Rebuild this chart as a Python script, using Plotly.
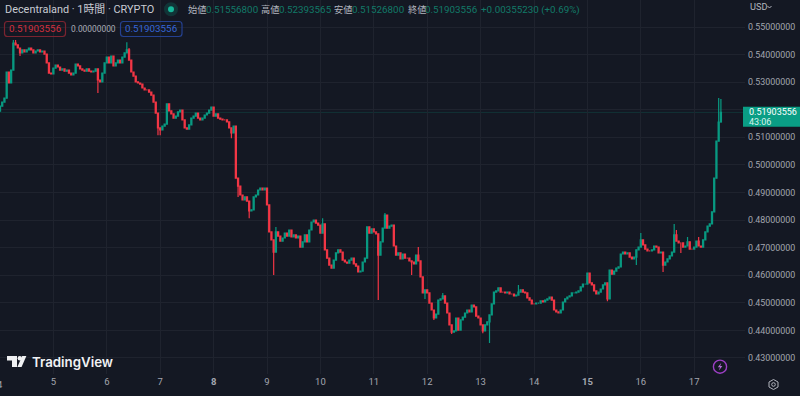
import plotly.graph_objects as go

first_open = .5195
closes = [
 # day 4
 .5213,.5228,.5242,.5337,.5297,.5344,.5442,.5435,.5424,.5406,.5417,.5410,.5417,.5424,.5417,.5406,.5413,.5417,.5410,.5413,.5402,.5370,.5333,.5330,
 # day 5
 .5351,.5362,.5355,.5344,.5348,.5340,.5344,.5333,.5326,.5333,.5366,.5359,.5348,.5344,.5340,.5348,.5340,.5337,.5340,.5348,.5308,.5301,.5333,.5370,
 # day 6
 .5391,.5370,.5395,.5359,.5370,.5380,.5370,.5391,.5406,.5417,.5380,.5337,.5322,.5301,.5297,.5293,.5279,.5272,.5272,.5264,.5253,.5228,.5188,.5134,
 # day 7
 .5127,.5141,.5148,.5221,.5196,.5185,.5170,.5177,.5192,.5199,.5163,.5134,.5130,.5145,.5170,.5177,.5188,.5170,.5163,.5170,.5181,.5188,.5199,.5210,
 # day 8
 .5177,.5185,.5170,.5166,.5163,.5163,.5156,.5134,.5116,.5141,.4952,.4923,.4891,.4873,.4884,.4869,.4833,.4837,.4884,.4891,.4909,.4916,.4909,.4916,
 # day 9
 .4855,.4757,.4728,.4684,.4757,.4742,.4724,.4735,.4753,.4742,.4764,.4739,.4746,.4735,.4742,.4702,.4721,.4746,.4721,.4764,.4793,.4800,.4789,.4782,
 # day 10
 .4753,.4786,.4692,.4662,.4637,.4626,.4655,.4681,.4692,.4684,.4655,.4648,.4644,.4655,.4662,.4641,.4633,.4612,.4615,.4648,.4662,.4775,.4753,.4768,
 # day 11
 .4757,.4750,.4673,.4721,.4771,.4818,.4771,.4778,.4782,.4706,.4673,.4681,.4659,.4677,.4662,.4662,.4652,.4648,.4641,.4673,.4652,.4594,.4536,.4547,
 # day 12
 .4536,.4499,.4474,.4445,.4459,.4510,.4514,.4525,.4499,.4463,.4420,.4394,.4398,.4445,.4401,.4438,.4448,.4463,.4474,.4467,.4492,.4485,.4452,.4445,
 # day 13
 .4420,.4398,.4420,.4431,.4456,.4496,.4539,.4543,.4554,.4539,.4539,.4536,.4539,.4532,.4532,.4525,.4528,.4539,.4547,.4539,.4536,.4518,.4510,.4496,
 # day 14
 .4496,.4499,.4499,.4507,.4503,.4510,.4514,.4521,.4510,.4474,.4467,.4463,.4474,.4503,.4514,.4521,.4525,.4536,.4536,.4539,.4543,.4558,.4568,.4568,
 # day 15
 .4608,.4572,.4565,.4543,.4532,.4539,.4550,.4565,.4572,.4514,.4619,.4604,.4615,.4626,.4630,.4677,.4684,.4677,.4681,.4666,.4659,.4666,.4692,.4702,
 # day 16
 .4728,.4710,.4695,.4688,.4688,.4692,.4706,.4702,.4681,.4684,.4637,.4648,.4659,.4670,.4684,.4746,.4724,.4717,.4717,.4702,.4706,.4721,.4695,.4695,
 # day 17
 .4702,.4724,.4706,.4702,.4728,.4757,.4778,.4786,.4830,.4952,.5086,.515568,.51903556,
]
# wicks that reach visibly past the body, by hour index
long_highs = {6:.5453, 7:.5453, 57:.5445, 58:.5424, 124:.4775, 145:.4807, 173:.4826, 188:.4702,
              199:.4536, 233:.4565, 288:.4753, 303:.4786, 304:.4764, 309:.4739, 314:.4739,
              323:.5243, 324:.52393565}
long_lows = {9:.5395, 44:.5261, 71:.5108, 72:.5108, 104:.5097, 107:.4884, 112:.4807, 123:.4601,
             170:.4510, 185:.4601, 191:.4514, 195:.4438, 203:.4387, 217:.4390, 220:.4354,
             273:.4506, 286:.4637, 298:.4612, 306:.4681, 324:.51526800}

hour_index = list(range(len(closes)))
opens = [first_open] + closes[:-1]
highs = [max(o, c, long_highs.get(i, 0)) for i, (o, c) in enumerate(zip(opens, closes))]
lows = [min(o, c, long_lows.get(i, 9)) for i, (o, c) in enumerate(zip(opens, closes))]

day_hours = [24 * d for d in range(1, 14)]
day_labels = ["5","6","7","<b>8</b>","9","10","11","12","13","14","<b>15</b>","16","17"]
price_ticks = [.43,.44,.45,.46,.47,.48,.49,.50,.51,.52,.53,.54,.55]
price_labels = ["0.43000000","0.44000000","0.45000000","0.46000000","0.47000000","0.48000000","0.49000000",
                "0.50000000","0.51000000","","0.53000000","0.54000000","0.55000000"]

W, H = 745.0, 374.0
def X(p): return p / W
def Y(p): return 1 - p / H
UP, DOWN = "#089981", "#F23645"
BG = "#141823"
GRID = "#1f232e"

fig = go.Figure(go.Candlestick(
    x=hour_index, open=opens, high=highs, low=lows, close=closes,
    increasing=dict(line=dict(color=UP, width=1.2), fillcolor=UP),
    decreasing=dict(line=dict(color=DOWN, width=1.2), fillcolor=DOWN),
    whiskerwidth=0, showlegend=False, hoverinfo="skip"))

shapes, notes = [], []
def text(x, y, s, size=9.8, color="#b2b5be", anchor="left", font="Roboto, 'Noto Sans CJK JP', sans-serif", weight=None):
    f = dict(size=size, color=color, family=font)
    if weight: f["weight"] = weight
    notes.append(dict(xref="paper", yref="paper", x=X(x), y=Y(y), text=s, showarrow=False,
                      xanchor=anchor, yanchor="middle", font=f, borderpad=0, borderwidth=0))
def rrect(x0, y0, x1, y1, r, line=None, fill=None, lw=1):
    d = (f"M{X(x0+r)},{Y(y0)} L{X(x1-r)},{Y(y0)} Q{X(x1)},{Y(y0)} {X(x1)},{Y(y0+r)} "
         f"L{X(x1)},{Y(y1-r)} Q{X(x1)},{Y(y1)} {X(x1-r)},{Y(y1)} L{X(x0+r)},{Y(y1)} "
         f"Q{X(x0)},{Y(y1)} {X(x0)},{Y(y1-r)} L{X(x0)},{Y(y0+r)} Q{X(x0)},{Y(y0)} {X(x0+r)},{Y(y0)} Z")
    shapes.append(dict(type="path", xref="paper", yref="paper", path=d,
                       line=dict(color=line or "rgba(0,0,0,0)", width=lw), fillcolor=fill or "rgba(0,0,0,0)"))
def poly(pts, fill=None, line=None, lw=1, close=True):
    d = "M" + " L".join(f"{X(a)},{Y(b)}" for a, b in pts) + (" Z" if close else "")
    shapes.append(dict(type="path", xref="paper", yref="paper", path=d,
                       line=dict(color=line or "rgba(0,0,0,0)", width=lw), fillcolor=fill or "rgba(0,0,0,0)"))
def circle(cx, cy, r, fill=None, line=None, lw=1):
    shapes.append(dict(type="circle", xref="paper", yref="paper", x0=X(cx-r), x1=X(cx+r), y0=Y(cy+r), y1=Y(cy-r),
                       line=dict(color=line or "rgba(0,0,0,0)", width=lw), fillcolor=fill or "rgba(0,0,0,0)"))

# last-price line
shapes.append(dict(type="line", xref="paper", yref="y", x0=0, x1=1, y0=closes[-1], y1=closes[-1],
                   line=dict(color="rgba(8,153,129,.2)", width=1), layer="below"))

# header
text(5, 10, "Decentraland · 1時間 · CRYPTO", size=10.9, color="#c8cbd3")
circle(171, 9.3, 7, fill="rgba(8,153,129,.22)")
circle(171, 9.3, 3, fill="#17b79a")
VAL = "#127a68"
for lx, lab, vx, val in [(188,"始値",206,"0.51556800"),(261,"高値",279,"0.52393565"),
                         (334,"安値",352,"0.51526800"),(408,"終値",425,"0.51903556")]:
    text(lx, 10, lab, size=9.2)
    text(vx, 10, val, color=VAL)
text(481, 10, "+0.00355230 (+0.69%)", color=VAL)

# indicator pills
rrect(4.5, 21.5, 65.5, 36.5, 3, line="#7a2430", lw=1.2)
text(35, 29, "0.51903556", color="#d5303f", anchor="center")
text(93.5, 29, "0.00000000", color="#a8abb3", anchor="center", size=8.4)
rrect(120.5, 21.5, 182, 36.5, 3, line="#24408f", lw=1.2)
text(151.2, 29, "0.51903556", color="#3566d8", anchor="center")

# logo
poly([(7,356),(17,356),(17,367),(12,367),(12,360.5),(7,360.5)], fill="#f0f1f3")
circle(19.8, 358.2, 2.2, fill="#f0f1f3")
poly([(22.2,356),(26.4,356),(21.6,367),(17.4,367)], fill="#f0f1f3")
text(31.5, 361.5, "TradingView", size=13.3, color="#f0f1f3", font="Inter, sans-serif", weight=600)

# clipped first day label
text(0, 385, "4", size=9.5, color="#a3a6af", anchor="center")

# price axis extras
text(750, 7, "USD", size=9.2)
poly([(767.5,6),(769.5,8),(771.5,6)], line="#b2b5be", lw=1, close=False)
shapes.append(dict(type="rect", xref="paper", yref="paper", x0=X(743), x1=X(800), y0=Y(126.7), y1=Y(106.7),
                   fillcolor="#0a9e85", line=dict(width=0)))
text(749, 112, "0.51903556", size=9, color="#ffffff")
text(749, 121.5, "43:06", size=9, color="#d7f2ec")

# bolt icon
circle(720, 366.7, 6.6, line="#9c3fc4", lw=1.4)
poly([(721.3,362.8),(717.8,367.3),(720,367.3),(718.9,370.6),(722.4,366),(720.2,366)], fill="#b46bd6")

# settings icon
poly([(773.5,379.5),(778,382),(778,387),(773.5,389.5),(769,387),(769,382)], line="#b2b5be", lw=1)
circle(773.5, 384.5, 1.8, line="#b2b5be", lw=1)

fig.update_layout(
    width=800, height=396, autosize=False,
    margin=dict(l=0, r=55, t=0, b=22),
    paper_bgcolor=BG, plot_bgcolor=BG,
    shapes=shapes, annotations=notes,
    font=dict(family="Roboto, sans-serif"),
    xaxis=dict(range=[0, 745 / 2.225], tickmode="array", tickvals=day_hours, ticktext=day_labels,
               showgrid=True, gridcolor=GRID, gridwidth=1, zeroline=False, showline=False,
               rangeslider=dict(visible=False), ticks="", tickfont=dict(size=9.5, color="#a3a6af")),
    yaxis=dict(side="right", range=[.5598 - 374 * .0003626, .5598], tickmode="array", tickvals=price_ticks,
               ticktext=price_labels, showgrid=True, gridcolor=GRID, gridwidth=1, zeroline=False, showline=False,
               ticks="", ticklabelstandoff=2, tickfont=dict(size=8.9, color="#a3a6af")),
)
fig.write_html("out.html", config=dict(displayModeBar=False),
               post_script="document.body.style.margin='0';document.body.style.overflow='hidden';")
